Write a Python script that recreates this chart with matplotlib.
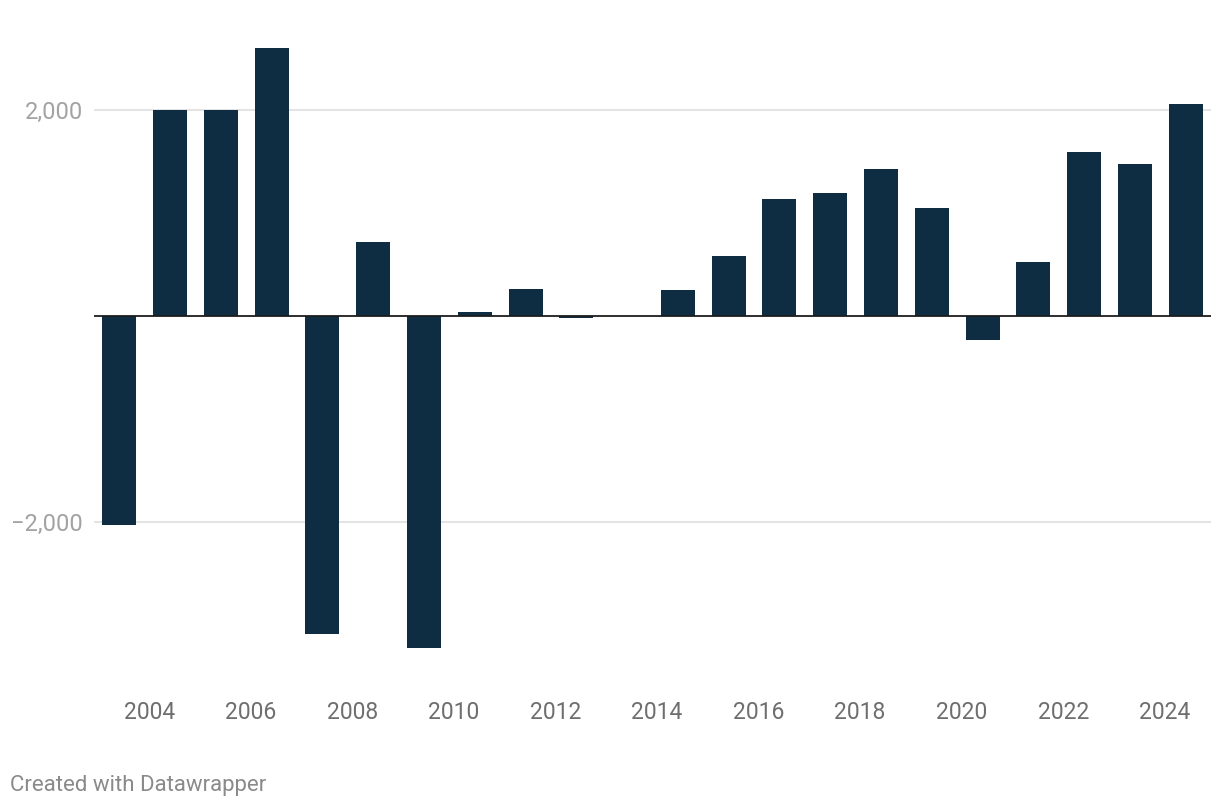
import matplotlib
matplotlib.use("Agg")
import matplotlib.pyplot as plt

plt.rcParams['font.family'] = ['Roboto', 'DejaVu Sans']

years = [2003, 2004, 2005, 2006, 2007, 2008, 2009, 2010, 2011, 2012, 2013,
         2014, 2015, 2016, 2017, 2018, 2019, 2020, 2021, 2022, 2023, 2024]
values = [-2030, 2000, 2000, 2600, -3090, 714, -3228, 36, 259, -25, 0,
          250, 580, 1131, 1191, 1424, 1046, -235, 521, 1589, 1473, 2055]
tick_years = [2004, 2006, 2008, 2010, 2012, 2014, 2016, 2018, 2020, 2022, 2024]
y_ticks = [-2000, 2000]
y_tick_labels = ["\u22122,000", "2,000"]

W, H = 1220, 808
fig = plt.figure(figsize=(W / 100, H / 100), dpi=100)
fig.patch.set_facecolor("white")

left_px, right_px = 94, 1211
ymin, ymax = -3300, 2700
zero_px = 315.5
scale = 206 / 2000
top_px = zero_px - ymax * scale
bot_px = zero_px - ymin * scale
ax = fig.add_axes([left_px / W, (H - bot_px) / H,
                   (right_px - left_px) / W, (bot_px - top_px) / H])

ax.bar([y + 0.5 for y in years], values, width=0.67, color="#0f2d42", zorder=3)
ax.set_xlim(years[0], years[-1] + 1)
ax.set_ylim(ymin, ymax)

for v in y_ticks:
    ax.axhline(v, color="#e3e3e3", linewidth=1.4, zorder=1)
ax.axhline(0, color="#1d1d1d", linewidth=1.3, zorder=4)

for s in ax.spines.values():
    s.set_visible(False)

ax.set_yticks(y_ticks)
ax.set_yticklabels(y_tick_labels)
ax.tick_params(axis="y", length=0, pad=8, labelsize=17, labelcolor="#a3a3a3")

ax.set_xticks([t + 0.09 for t in tick_years])
ax.set_xticklabels([str(t) for t in tick_years])
ax.tick_params(axis="x", length=0, labelsize=16.5, labelcolor="#6e6e6e")
ax.xaxis.set_tick_params(pad=(712 - bot_px) * 72 / 100 - 8)

fig.text(10 / W, 1 - 785 / H, "Created with Datawrapper", fontsize=16,
         color="#8a8a8a", ha="left", va="center")

fig.savefig("out.png", dpi=100, facecolor="white")
